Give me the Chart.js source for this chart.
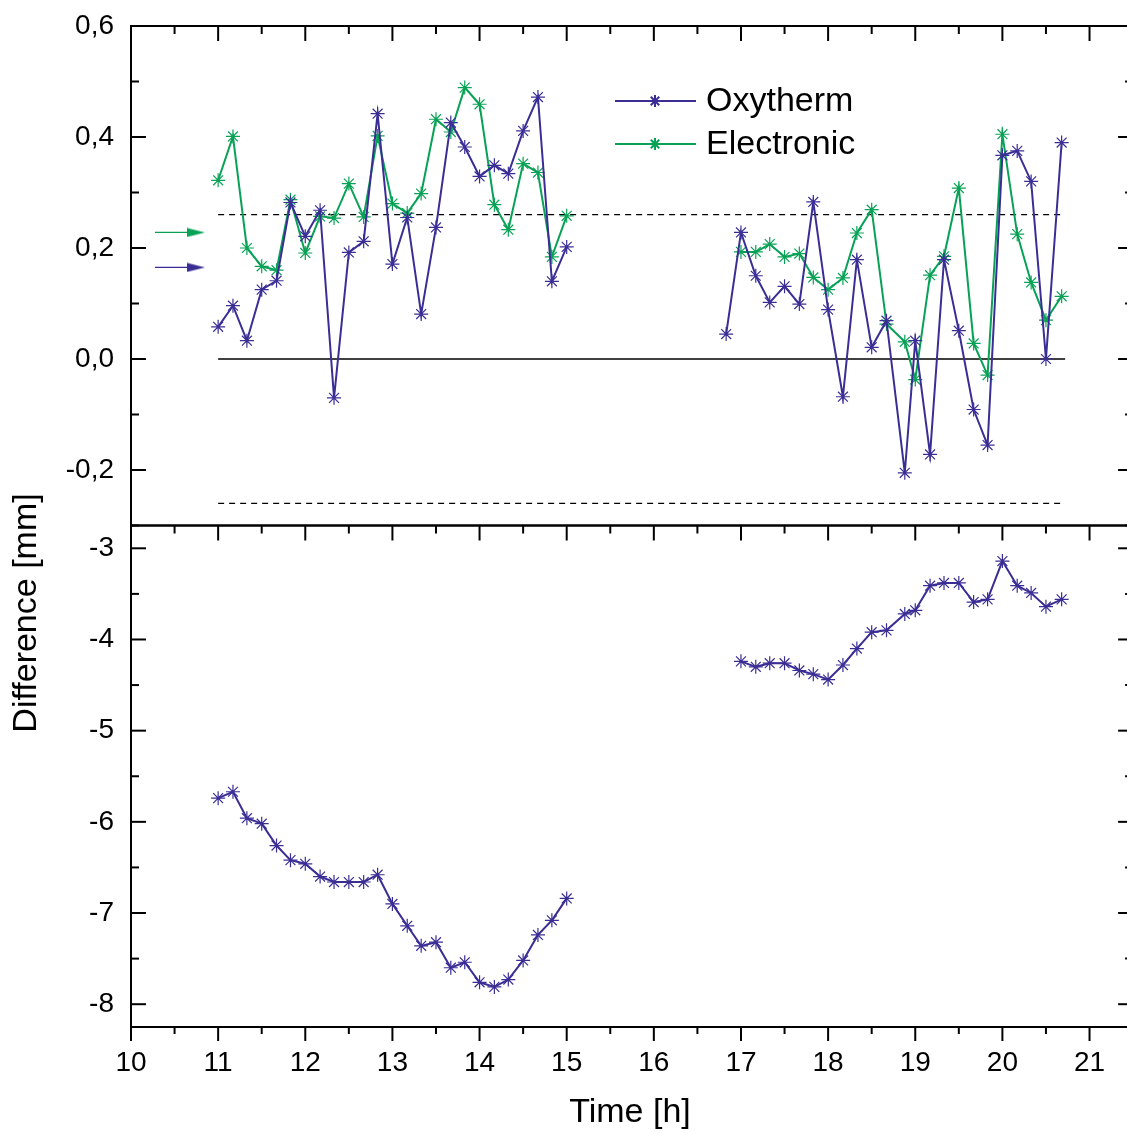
<!DOCTYPE html>
<html>
<head>
<meta charset="utf-8">
<title>Difference vs time</title>
<script src="https://cdn.jsdelivr.net/npm/chart.js@4.4.1/dist/chart.umd.min.js"></script>
<style>
    html, body { margin: 0; padding: 0; background: #fff; }
    #wrap { position: relative; width: 1127px; height: 1133px; }
</style>
</head>
<body>
<div id="wrap"><canvas id="diffChart" width="1127" height="1133"></canvas></div>
<script>
/* ========================================
   Difference [mm] over time - two panels
   ======================================== */

// Sample times [h]
const timeLeft = [11.00, 11.17, 11.33, 11.50, 11.67, 11.83, 12.00, 12.17, 12.33, 12.50, 12.67, 12.83, 13.00,
                  13.17, 13.33, 13.50, 13.67, 13.83, 14.00, 14.17, 14.33, 14.50, 14.67, 14.83, 15.00];
const timeRight = [16.83, 17.00, 17.17, 17.33, 17.50, 17.67, 17.83, 18.00, 18.17, 18.33, 18.50, 18.67,
                   18.88, 19.00, 19.17, 19.33, 19.50, 19.67, 19.83, 20.00, 20.17, 20.33, 20.50, 20.68];

// Upper panel
const oxyTopLeft = [0.058, 0.096, 0.033, 0.125, 0.141, 0.282, 0.221, 0.268, -0.070, 0.192, 0.212, 0.442, 0.171,
                    0.255, 0.081, 0.237, 0.426, 0.382, 0.329, 0.349, 0.334, 0.411, 0.472, 0.140, 0.202];
const elecTopLeft = [0.322, 0.401, 0.200, 0.167, 0.160, 0.287, 0.191, 0.257, 0.254, 0.316, 0.256, 0.402, 0.280,
                     0.263, 0.298, 0.432, 0.409, 0.489, 0.459, 0.278, 0.233, 0.352, 0.336, 0.184, 0.258];
const oxyTopRight = [0.045, 0.228, 0.150, 0.102, 0.131, 0.099, 0.283, 0.089, -0.068, 0.179, 0.021, 0.069,
                     -0.205, 0.033, -0.172, 0.179, 0.051, -0.091, -0.155, 0.367, 0.375, 0.320, 0.000, 0.390];
const elecTopRight = [null, 0.193, 0.193, 0.207, 0.184, 0.190, 0.147, 0.125, 0.146, 0.227, 0.269, 0.063,
                      0.031, -0.037, 0.151, 0.185, 0.308, 0.028, -0.029, 0.405, 0.225, 0.138, 0.070, 0.113];

// Lower panel
const oxyBotLeft = [-5.74, -5.67, -5.96, -6.02, -6.26, -6.42, -6.46, -6.60, -6.66, -6.66, -6.66, -6.58, -6.90,
                    -7.14, -7.36, -7.32, -7.60, -7.54, -7.76, -7.81, -7.73, -7.52, -7.24, -7.08, -6.84];
const oxyBotRight = [null, -4.24, -4.30, -4.26, -4.26, -4.34, -4.38, -4.44, -4.28, -4.10, -3.92, -3.90,
                     -3.72, -3.68, -3.41, -3.38, -3.38, -3.59, -3.56, -3.14, -3.41, -3.49, -3.64, -3.56];

// Tick positions of the lower panel
const botTicks = [-8, -7.5, -7, -6.5, -6, -5.5, -5, -4.5, -4, -3.5, -3];

// Reference lines and mean arrows (upper panel)
const refTime = [11.0, 20.72];
const zeroLine = [0, 0];
const limitUpper = [0.26, 0.26];
const limitLower = [-0.26, -0.26];
const arrowTime = [10.275, 10.746];
const arrowElec = [0.228, 0.228];
const arrowOxy = [0.165, 0.165];

const NAVY = '#3a2e95';
const GREEN = '#08a256';
const FONT = "'Liberation Sans', Arial, Helvetica, sans-serif";

Chart.defaults.font.family = FONT;
Chart.defaults.color = '#000';

function pairs(xs, ys) {
    return xs.map((x, i) => ({ x: x, y: ys[i] }));
}

function seriesSet(label, xs, ys, color, axis) {
    return {
        label: label,
        data: pairs(xs, ys),
        yAxisID: axis,
        borderColor: color,
        backgroundColor: color,
        borderWidth: 2,
        pointStyle: 'star',
        pointRadius: 7,
        pointBorderWidth: 1.2,
        pointBorderColor: color,
        tension: 0
    };
}

function refSet(ys, dash) {
    return {
        data: pairs(refTime, ys),
        yAxisID: 'yTop',
        borderColor: '#000',
        borderWidth: 1.3,
        borderDash: dash,
        pointRadius: 0
    };
}

// small arrow head used as point style
function arrowHead(color) {
    const c = document.createElement('canvas');
    c.width = 18;
    c.height = 10;
    const g = c.getContext('2d');
    g.fillStyle = color;
    g.beginPath();
    g.moveTo(0, 0.5);
    g.lineTo(18, 5);
    g.lineTo(0, 9.5);
    g.closePath();
    g.fill();
    return c;
}

function arrowSet(ys, color) {
    return {
        data: pairs(arrowTime, ys),
        yAxisID: 'yTop',
        borderColor: color,
        borderWidth: 1.3,
        pointStyle: arrowHead(color),
        pointRadius: [0, 9]
    };
}

function isStep(v, step) {
    const q = v / step;
    return Math.abs(q - Math.round(q)) < 1e-6;
}

function line(ctx, x1, y1, x2, y2) {
    ctx.beginPath();
    ctx.moveTo(x1, y1);
    ctx.lineTo(x2, y2);
    ctx.stroke();
}

// no extra room for first / last labels
function fitWidth(w) {
    return s => {
        s.width = w;
        s.paddingTop = 0;
        s.paddingBottom = 0;
    };
}

// Frames and inward ticks, like the original plot
const panelFrame = {
    id: 'panelFrame',
    afterDatasetsDraw(chart) {
        const ctx = chart.ctx;
        const xs = chart.scales.x;
        const panels = [chart.scales.yTop, chart.scales.yBot];
        const left = chart.chartArea.left;
        const right = xs.getPixelForValue(21.5);
        ctx.save();
        ctx.strokeStyle = '#000';
        ctx.lineWidth = 2;
        ctx.lineCap = 'butt';
        panels.forEach(s => ctx.strokeRect(left, s.top, right - left, s.bottom - s.top));
        panels.forEach(s => {
            s.ticks.forEach(t => {
                const py = s.getPixelForValue(t.value);
                const len = t.label ? 15 : 8;
                line(ctx, left, py, left + len, py);
                line(ctx, right, py, right - len, py);
            });
        });
        xs.ticks.forEach(t => {
            const px = xs.getPixelForValue(t.value);
            const len = t.label ? 15 : 8;
            panels.forEach(s => line(ctx, px, s.top, px, s.top + len));
            line(ctx, px, chart.scales.yBot.bottom, px, chart.scales.yBot.bottom + len - 1);
        });
        ctx.restore();
    },
    afterDraw(chart) {
        const ctx = chart.ctx;
        ctx.save();
        ctx.fillStyle = '#000';
        ctx.font = '34px ' + FONT;
        ctx.textAlign = 'center';
        ctx.textBaseline = 'middle';
        ctx.fillText('Time [h]', 630, 1113);
        ctx.save();
        ctx.translate(27, 613);
        ctx.rotate(-Math.PI / 2);
        ctx.fillText('Difference [mm]', 0, 0);
        ctx.restore();

        // legend
        const items = [
            { label: 'Oxytherm', color: NAVY, y: 101 },
            { label: 'Electronic', color: GREEN, y: 144 }
        ];
        ctx.textAlign = 'left';
        items.forEach(it => {
            ctx.strokeStyle = it.color;
            ctx.lineWidth = 2;
            line(ctx, 615, it.y, 696, it.y);
            Chart.helpers.drawPoint(ctx, { pointStyle: 'star', radius: 6, borderWidth: 1.2 }, 655, it.y);
            ctx.fillStyle = '#000';
            ctx.fillText(it.label, 706, it.y + 1);
        });
        ctx.restore();
    }
};

new Chart(document.getElementById('diffChart'), {
    type: 'line',
    data: {
        datasets: [
            seriesSet('Oxytherm', timeLeft, oxyTopLeft, NAVY, 'yTop'),
            seriesSet('Oxytherm', timeRight, oxyTopRight, NAVY, 'yTop'),
            seriesSet('Oxytherm', timeLeft, oxyBotLeft, NAVY, 'yBot'),
            seriesSet('Oxytherm', timeRight, oxyBotRight, NAVY, 'yBot'),
            seriesSet('Electronic', timeLeft, elecTopLeft, GREEN, 'yTop'),
            seriesSet('Electronic', timeRight, elecTopRight, GREEN, 'yTop'),
            arrowSet(arrowElec, GREEN),
            arrowSet(arrowOxy, NAVY),
            refSet(zeroLine, []),
            refSet(limitUpper, [6, 5]),
            refSet(limitLower, [6, 5])
        ]
    },
    options: {
        responsive: false,
        animation: false,
        devicePixelRatio: 1,
        layout: { autoPadding: false, padding: { top: 26, right: 0, left: 0, bottom: 0 } },
        plugins: {
            legend: { display: false },
            tooltip: { enabled: false }
        },
        scales: {
            x: {
                type: 'linear',
                position: 'bottom',
                min: 10,
                max: 21.43,
                grid: { display: false, drawTicks: false },
                border: { display: false },
                ticks: {
                    stepSize: 0.5,
                    includeBounds: false,
                    autoSkip: false,
                    maxRotation: 0,
                    padding: 19,
                    font: { size: 28 },
                    callback: v => (isStep(v, 1) ? String(Math.round(v)) : '')
                },
                afterFit: s => {
                    s.height = 106;
                    s.paddingLeft = 0;
                    s.paddingRight = 0;
                }
            },
            yBot: {
                type: 'linear',
                position: 'left',
                stack: 'panels',
                stackWeight: 501.5,
                weight: 0,
                min: -8.25,
                max: -2.75,
                grid: { display: false, drawTicks: false },
                border: { display: false },
                afterBuildTicks: s => { s.ticks = botTicks.map(v => ({ value: v })); },
                ticks: {
                    autoSkip: false,
                    padding: 17,
                    font: { size: 28 },
                    callback: v => (isStep(v, 1) ? String(Math.round(v)) : '')
                },
                afterFit: fitWidth(131)
            },
            yTop: {
                type: 'linear',
                position: 'left',
                stack: 'panels',
                stackWeight: 499.5,
                weight: 1,
                min: -0.3,
                max: 0.6,
                grid: { display: false, drawTicks: false },
                border: { display: false },
                ticks: {
                    stepSize: 0.1,
                    includeBounds: false,
                    autoSkip: false,
                    padding: 17,
                    font: { size: 28 },
                    callback: v => (isStep(v, 0.2) ? v.toFixed(1).replace('.', ',') : '')
                },
                afterFit: fitWidth(131)
            }
        }
    },
    plugins: [panelFrame]
});
</script>
</body>
</html>
